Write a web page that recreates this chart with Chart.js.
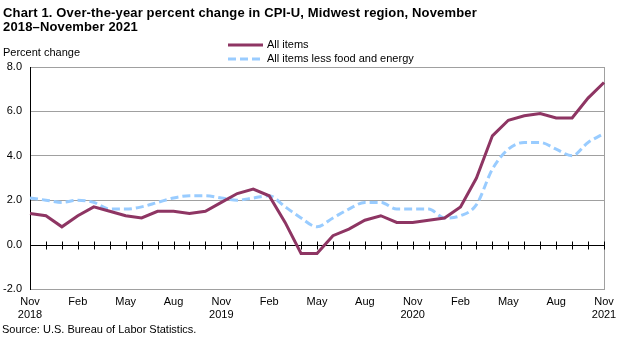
<!DOCTYPE html>
<html>
<head>
<meta charset="utf-8">
<script src="https://cdn.jsdelivr.net/npm/chart.js@4"></script>
<style>
  html, body { margin: 0; padding: 0; background: #fff; }
  #wrap { position: relative; width: 624px; height: 337px; }
</style>
</head>
<body>
<div id="wrap"><canvas id="cpiChart" width="624" height="337"></canvas></div>
<script>
/* ── Data ───────────────────────────────────────────────────── */

const months = ["Nov","Dec","Jan","Feb","Mar","Apr","May","Jun","Jul","Aug","Sep","Oct",
                "Nov","Dec","Jan","Feb","Mar","Apr","May","Jun","Jul","Aug","Sep","Oct",
                "Nov","Dec","Jan","Feb","Mar","Apr","May","Jun","Jul","Aug","Sep","Oct","Nov"];
const years = { 0: "2018", 12: "2019", 24: "2020", 36: "2021" };

const allItems = [1.4, 1.3, 0.8, 1.3, 1.7, 1.5, 1.3, 1.2, 1.5, 1.5, 1.4, 1.5,
                  1.9, 2.3, 2.5, 2.2, 1.0, -0.4, -0.4, 0.4, 0.7, 1.1, 1.3, 1.0,
                  1.0, 1.1, 1.2, 1.7, 3.0, 4.9, 5.6, 5.8, 5.9, 5.7, 5.7, 6.6, 7.3];
const lessFoodEnergy = [2.1, 2.0, 1.9, 2.0, 1.9, 1.6, 1.6, 1.7, 1.9, 2.1, 2.2, 2.2,
                        2.1, 2.0, 2.1, 2.2, 1.7, 1.2, 0.8, 1.2, 1.6, 1.9, 1.9, 1.6,
                        1.6, 1.6, 1.2, 1.3, 1.8, 3.4, 4.3, 4.6, 4.6, 4.3, 4.0, 4.6, 5.0];

const yTicks = [-2, 0, 2, 4, 6, 8];

const FONT = "Arial, 'Liberation Sans', sans-serif";
const CLR_ALL = "#8e3563";
const CLR_CORE = "#99ccff";

/* ── Decorations: title, legend, frame, zero-line ticks ─────── */

const decor = {
  id: "decor",
  beforeDatasetsDraw(chart) {
    const { ctx, chartArea: a, scales: { x, y } } = chart;
    ctx.save();
    // gray frame
    ctx.strokeStyle = "#a0a0a0";
    ctx.lineWidth = 1;
    ctx.strokeRect(Math.round(a.left) + 0.5, Math.round(a.top) + 0.5,
                   Math.round(a.right - a.left), Math.round(a.bottom - a.top));
    // left axis
    ctx.strokeStyle = "#000";
    ctx.beginPath();
    ctx.moveTo(Math.round(a.left) + 0.5, a.top);
    ctx.lineTo(Math.round(a.left) + 0.5, a.bottom + 1);
    ctx.stroke();
    // zero line with month ticks
    const y0 = Math.round(y.getPixelForValue(0)) + 0.5;
    ctx.beginPath();
    ctx.moveTo(a.left, y0);
    ctx.lineTo(a.right, y0);
    months.forEach((m, i) => {
      const px = Math.round(x.getPixelForValue(i)) + 0.5;
      ctx.moveTo(px, y0 - 4);
      ctx.lineTo(px, y0 + 4);
    });
    ctx.stroke();
    ctx.restore();
  },
  afterDraw(chart) {
    const { ctx } = chart;
    ctx.save();
    ctx.fillStyle = "#000";
    ctx.textBaseline = "alphabetic";
    ctx.font = "bold 13px " + FONT;
    ctx.letterSpacing = "0.15px";
    ctx.fillText("Chart 1. Over-the-year percent change in CPI-U, Midwest region, November", 3, 17);
    ctx.fillText("2018\u2013November 2021", 3, 31);
    ctx.letterSpacing = "0px";

    ctx.font = "11px " + FONT;
    ctx.fillText("Percent change", 3, 56);
    ctx.fillText("Source: U.S. Bureau of Labor Statistics.", 2, 333);

    // legend
    ctx.lineWidth = 3;
    ctx.strokeStyle = CLR_ALL;
    ctx.beginPath(); ctx.moveTo(228, 45); ctx.lineTo(263, 45); ctx.stroke();
    ctx.strokeStyle = CLR_CORE;
    ctx.setLineDash([8, 4]);
    ctx.beginPath(); ctx.moveTo(228, 59); ctx.lineTo(263, 59); ctx.stroke();
    ctx.setLineDash([]);
    ctx.textBaseline = "middle";
    ctx.fillText("All items", 267, 45);
    ctx.fillText("All items less food and energy", 267, 59);
    ctx.restore();
  }
};

/* ── Chart ──────────────────────────────────────────────────── */

new Chart(document.getElementById("cpiChart"), {
  type: "line",
  data: {
    labels: months,
    datasets: [
      {
        label: "All items",
        data: allItems,
        borderColor: CLR_ALL,
        borderWidth: 3,
        pointRadius: 0,
        tension: 0,
      },
      {
        label: "All items less food and energy",
        data: lessFoodEnergy,
        borderColor: CLR_CORE,
        borderWidth: 3,
        borderDash: [8, 4],
        pointRadius: 0,
        cubicInterpolationMode: "monotone",
      },
    ],
  },
  options: {
    responsive: false,
    animation: false,
    layout: { padding: { left: 0, top: 67, right: 20, bottom: 0 } },
    plugins: { legend: { display: false }, tooltip: { enabled: false } },
    scales: {
      x: {
        offset: false,
        grid: { display: false, drawTicks: false },
        border: { display: false },
        afterFit: s => { s.height = 48; },
        ticks: {
          autoSkip: false,
          maxRotation: 0,
          padding: 6,
          color: "#000",
          font: { family: FONT, size: 11 },
          callback: (v, i) => i % 3 !== 0 ? "" : (years[i] ? [months[i], years[i]] : months[i]),
        },
      },
      y: {
        min: -2,
        max: 8,
        afterFit: s => { s.width = 30; },
        afterBuildTicks: s => { s.ticks = yTicks.map(v => ({ value: v })); },
        grid: {
          drawTicks: false,
          color: c => c.tick && c.tick.value === 0 ? "rgba(0,0,0,0)" : "#a0a0a0",
        },
        border: { display: false },
        ticks: {
          padding: 8,
          color: "#000",
          font: { family: FONT, size: 11 },
          callback: v => v.toFixed(1),
        },
      },
    },
  },
  plugins: [decor],
});
</script>
</body>
</html>
